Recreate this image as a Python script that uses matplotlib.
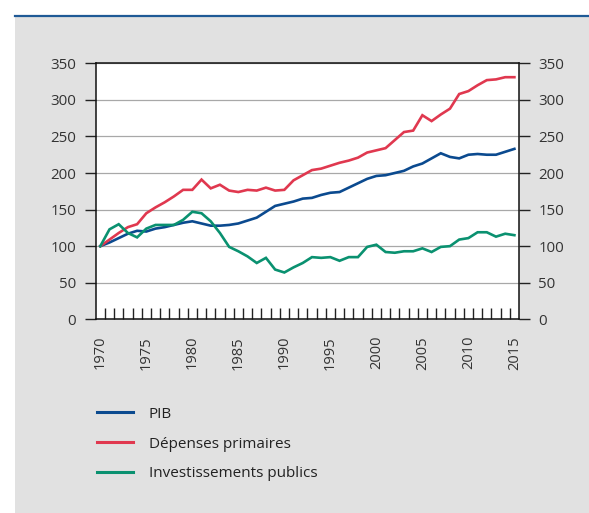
import matplotlib
matplotlib.use("Agg")
import matplotlib.pyplot as plt
from matplotlib.lines import Line2D
from matplotlib.patches import Rectangle
import numpy as np

plt.rcParams["font.family"] = ["Open Sans", "DejaVu Sans"]

years = list(range(1970, 2016))

pib = [100, 105, 111, 117, 121, 120, 124, 126, 129, 132,
       134, 131, 128, 128, 129, 131, 135, 139, 147, 155,
       158, 161, 165, 166, 170, 173, 174, 180, 186, 192,
       196, 197, 200, 203, 209, 213, 220, 227, 222, 220,
       225, 226, 225, 225, 229, 233]

depenses = [100, 109, 118, 126, 130, 145, 153, 160, 168, 177,
            177, 191, 179, 184, 176, 174, 177, 176, 180, 176,
            177, 190, 197, 204, 206, 210, 214, 217, 221, 228,
            231, 234, 245, 256, 258, 279, 271, 280, 288, 308,
            312, 320, 327, 328, 331, 331]

invest = [100, 123, 130, 118, 112, 124, 129, 129, 129, 136,
          147, 145, 134, 118, 99, 93, 86, 77, 84, 68,
          64, 71, 77, 85, 84, 85, 80, 85, 85, 99,
          102, 92, 91, 93, 93, 97, 92, 99, 100, 109,
          111, 119, 119, 113, 117, 115]

series = [
    ("PIB", pib, "#0b4a8f"),
    ("Dépenses primaires", depenses, "#e0384f"),
    ("Investissements publics", invest, "#0a9170"),
]

yticks = [0, 50, 100, 150, 200, 250, 300, 350]
xlabels = list(range(1970, 2016, 5))

W, H = 589, 513
fig = plt.figure(figsize=(W / 100, H / 100), dpi=100)
fig.patch.set_facecolor("white")

# grey panel with the blue rule on top
fig.add_artist(Rectangle((15 / W, 0), 1 - 15 / W, 1 - 16 / H,
                         transform=fig.transFigure, facecolor="#e1e1e1",
                         edgecolor="none", zorder=0))
fig.add_artist(Line2D([15 / W, 1], [1 - 15.5 / H, 1 - 15.5 / H],
                      transform=fig.transFigure, color="#1f5a96", lw=1.6))

left, right = 95.7 / W, 519 / W
top, bottom = 1 - 63.3 / H, 1 - 319.3 / H
ax = fig.add_axes([left, bottom, right - left, top - bottom])
ax.set_facecolor("white")

for name, vals, col in series:
    ax.plot(years, vals, color=col, lw=1.9, label=name, zorder=3,
            solid_joinstyle="miter")

ax.set_xlim(1969.5, 2015.5)
ax.set_ylim(0, 350)
ax.set_yticks(yticks)
ax.yaxis.grid(True, color="#a8a8a8", lw=0.9)
ax.set_axisbelow(True)

# year labels without marks, boundary ticks pointing up inside
ax.set_xticks(xlabels)
ax.set_xticklabels([str(y) for y in xlabels], rotation=90, fontsize=10.5,
                   color="#333333")
ax.tick_params(axis="x", which="major", length=0, pad=12)
ax.set_xticks(np.arange(1970.5, 2015, 1), minor=True)
ax.tick_params(axis="x", which="minor", direction="in", length=8,
               width=1.0, color="#222222")

ax.tick_params(axis="y", direction="out", length=8, width=1.0,
               color="#222222", labelsize=10.8, labelcolor="#333333",
               pad=6, left=True, right=True, labelleft=True, labelright=True)

for side in ["left", "right", "top", "bottom"]:
    ax.spines[side].set_color("#111111")
    ax.spines[side].set_linewidth(1.1)

handles = [Line2D([], [], color=c, lw=2.2) for _, _, c in series]
fig.legend(handles, [s[0] for s in series], loc="upper left",
           bbox_to_anchor=(83 / W, 1 - 393 / H), frameon=False,
           fontsize=11, handlelength=2.4, handletextpad=1.0,
           labelspacing=0.97, labelcolor="#222222")

fig.savefig("out.png", dpi=100)
